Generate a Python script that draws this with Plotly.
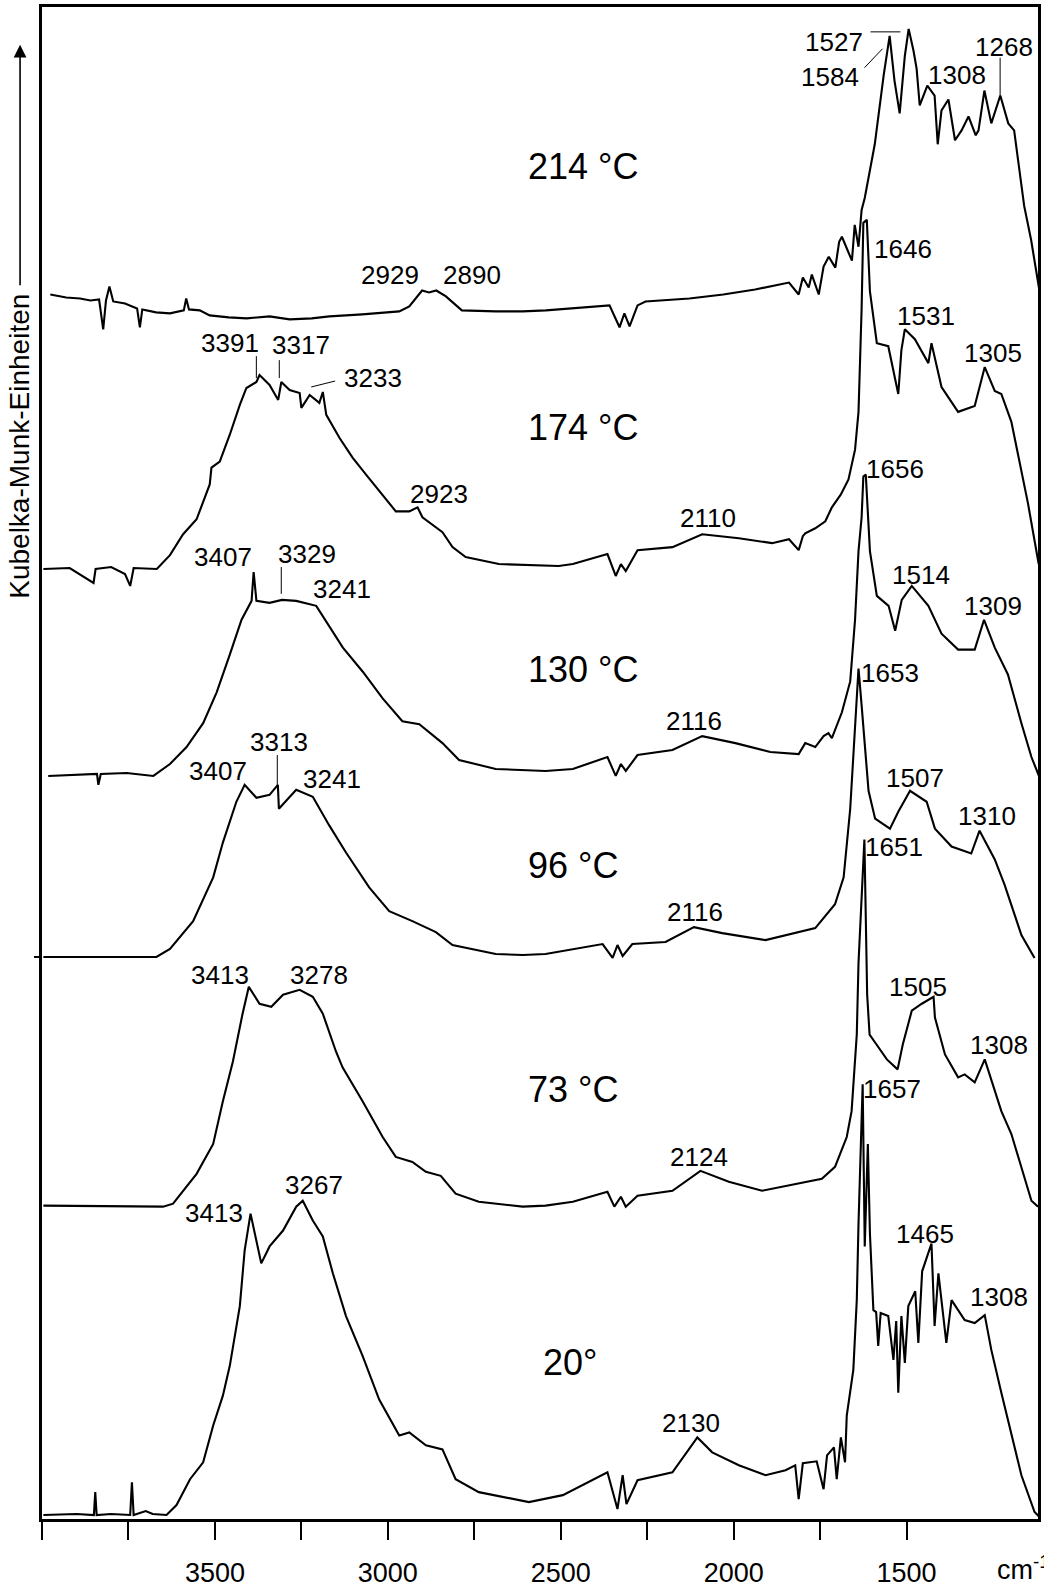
import plotly.graph_objects as go

# ---------------- data ----------------
temps = ["214 °C", "174 °C", "130 °C", "96 °C", "73 °C", "20°"]
offsets = [123.1, 95.5, 74.7, 56.5, 31.5, 0.4]

wn_214 = [3976, 3930, 3890, 3860, 3835, 3823, 3815, 3805, 3794, 3760, 3725, 3717, 3710, 3670, 3630,
          3590, 3583, 3575, 3544, 3515, 3460, 3408, 3342, 3284, 3220, 3169, 3074, 2967, 2938, 2901,
          2881, 2860, 2832, 2786, 2688, 2610, 2543, 2416, 2359, 2330, 2316, 2301, 2278, 2255, 2128,
          2030, 1938, 1840, 1812, 1800, 1783, 1774, 1754, 1740, 1725, 1706, 1695, 1687, 1658, 1650,
          1639, 1630, 1621, 1592, 1566, 1549, 1535, 1520, 1505, 1494, 1480, 1471, 1462, 1440, 1419,
          1410, 1399, 1379, 1360, 1341, 1321, 1300, 1292, 1275, 1255, 1229, 1206, 1189, 1160, 1140,
          1116]
km_214 = [0.0, -0.3, -0.4, -0.6, -0.5, -3.5, -0.6, 0.8, -0.7, -0.9, -1.4, -3.3, -1.5, -1.8, -1.9,
          -1.6, -0.4, -1.5, -1.6, -2.1, -2.3, -2.4, -2.2, -2.5, -2.4, -2.2, -2.0, -1.7, -1.2, 0.4,
          0.2, 0.4, -0.2, -1.6, -1.7, -1.7, -1.6, -1.3, -1.1, -3.3, -1.9, -3.2, -1.1, -0.7, -0.4,
          0.0, 0.5, 1.2, 0.0, 1.7, 0.7, 2.0, 0.0, 2.8, 3.8, 2.7, 5.3, 5.8, 3.4, 7.0,
          4.8, 8.5, 9.7, 15.1, 22.1, 26.0, 21.5, 18.2, 24.0, 26.7, 24.5, 22.7, 19.0, 21.0, 20.0,
          15.1, 18.5, 19.6, 15.5, 16.5, 17.9, 16.0, 16.5, 20.5, 17.2, 20.0, 17.2, 16.5, 8.9, 5.5,
          0.4]

wn_174 = [3996, 3920, 3851, 3845, 3800, 3760, 3745, 3735, 3668, 3630, 3592, 3553, 3515, 3510, 3486,
          3457, 3428, 3409, 3380, 3371, 3342, 3317, 3308, 3284, 3255, 3250, 3226, 3198, 3188, 3178,
          3140, 3102, 3063, 3015, 2977, 2938, 2914, 2900, 2842, 2813, 2775, 2679, 2506, 2465, 2365,
          2341, 2326, 2312, 2278, 2177, 2091, 1985, 1889, 1840, 1812, 1800, 1793, 1764, 1735, 1716,
          1690, 1668, 1649, 1639, 1630, 1625, 1615, 1606, 1586, 1553, 1524, 1515, 1505, 1476, 1437,
          1428, 1399, 1351, 1303, 1274, 1245, 1226, 1197, 1149, 1131, 1118]
km_174 = [0.0, 0.1, -1.4, 0.0, 0.2, -0.5, -1.7, 0.1, 0.0, 1.4, 3.5, 5.0, 8.5, 10.2, 10.8,
          13.5, 16.5, 18.2, 18.8, 19.5, 18.5, 17.0, 18.8, 18.0, 17.7, 16.2, 17.5, 16.7, 17.8, 15.5,
          13.2, 11.2, 9.5, 7.5, 5.8, 5.8, 6.2, 5.2, 3.7, 2.2, 1.2, 0.5, 0.3, 0.5, 1.5,
          -0.7, 0.5, -0.2, 1.9, 2.2, 3.5, 3.1, 2.6, 3.0, 1.9, 3.3, 3.6, 4.1, 4.8, 6.2,
          7.5, 9.0, 12.0, 15.8, 26.2, 34.8, 35.1, 27.9, 22.7, 22.4, 17.6, 22.0, 24.1, 23.1, 20.7,
          22.7, 18.3, 15.8, 16.4, 20.3, 17.9, 17.6, 14.8, 6.6, 3.0, 0.5]

wn_130 = [3982, 3900, 3841, 3837, 3830, 3755, 3678, 3630, 3582, 3534, 3495, 3457, 3423, 3394, 3388,
          3380, 3342, 3306, 3265, 3207, 3169, 3130, 3073, 3015, 2958, 2909, 2842, 2794, 2688, 2544,
          2465, 2365, 2341, 2326, 2312, 2278, 2177, 2091, 1995, 1894, 1812, 1793, 1764, 1740, 1726,
          1716, 1687, 1663, 1649, 1639, 1630, 1625, 1618, 1610, 1606, 1586, 1552, 1533, 1514, 1485,
          1437, 1399, 1351, 1303, 1276, 1245, 1207, 1168, 1139, 1115]
km_130 = [0.0, 0.1, 0.2, -0.9, 0.2, 0.3, 0.0, 1.2, 2.9, 5.3, 8.4, 12.2, 15.7, 17.6, 20.5,
          17.6, 17.4, 17.7, 17.6, 17.1, 15.0, 12.9, 10.5, 7.8, 5.5, 5.2, 3.3, 1.6, 0.7, 0.5,
          0.7, 1.9, 0.0, 1.2, 0.5, 2.1, 2.6, 4.0, 3.3, 2.4, 2.2, 3.3, 2.9, 4.0, 4.3,
          3.8, 6.4, 9.5, 15.7, 22.6, 26.0, 30.1, 30.3, 25.3, 22.6, 18.1, 17.1, 14.6, 17.7, 19.1,
          17.1, 14.3, 12.7, 12.7, 15.7, 12.9, 10.2, 5.3, 1.9, -0.2]

wn_96 = [3996, 3669, 3630, 3563, 3505, 3477, 3438, 3414, 3380, 3342, 3318, 3315, 3265, 3217, 3169,
         3121, 3054, 2996, 2929, 2861, 2813, 2688, 2610, 2544, 2379, 2350, 2336, 2321, 2293, 2197,
         2115, 2033, 1908, 1764, 1707, 1682, 1663, 1649, 1639, 1630, 1610, 1591, 1548, 1524, 1490,
         1442, 1418, 1370, 1313, 1289, 1245, 1217, 1168, 1130]
km_96 = [0.0, 0.0, 0.8, 3.6, 8.0, 11.5, 15.6, 17.3, 16.0, 16.3, 17.3, 14.9, 16.8, 16.1, 13.2,
         10.5, 7.0, 4.6, 3.6, 2.5, 1.2, 0.3, 0.2, 0.3, 1.3, -0.1, 1.2, 0.1, 1.3, 1.5,
         3.0, 2.4, 1.7, 2.9, 5.3, 8.0, 14.9, 23.5, 29.0, 25.3, 16.7, 13.9, 12.9, 14.6, 16.7,
         15.6, 12.9, 11.1, 10.4, 12.7, 9.8, 7.3, 2.2, -0.1]

wn_73 = [3996, 3745, 3650, 3621, 3553, 3505, 3477, 3448, 3420, 3402, 3371, 3337, 3303, 3255, 3217,
         3188, 3150, 3131, 3073, 3015, 2977, 2929, 2890, 2847, 2804, 2737, 2610, 2544, 2465, 2365,
         2345, 2326, 2312, 2278, 2177, 2096, 2014, 1918, 1745, 1707, 1673, 1659, 1644, 1639, 1622,
         1614, 1607, 1591, 1557, 1526, 1511, 1485, 1456, 1422, 1418, 1389, 1351, 1332, 1303, 1274,
         1245, 1226, 1197, 1168, 1139, 1120]
km_73 = [0.0, -0.1, -0.1, 0.2, 3.2, 6.2, 10.5, 14.5, 19.3, 22.0, 20.3, 20.0, 21.2, 21.7, 21.0,
         19.3, 15.5, 13.9, 10.5, 6.9, 4.9, 4.4, 3.4, 3.0, 1.2, 0.4, -0.1, 0.0, 0.4, 1.4,
         -0.1, 0.9, -0.1, 1.0, 1.5, 3.5, 2.4, 1.5, 2.7, 3.9, 6.9, 9.5, 17.2, 24.4, 36.8,
         21.2, 17.2, 16.4, 14.7, 13.7, 16.2, 19.6, 20.3, 21.0, 18.9, 15.2, 12.9, 13.2, 12.4, 14.7,
         11.5, 9.5, 7.2, 3.9, 0.5, -0.1]

wn_20 = [3996, 3900, 3850, 3846, 3842, 3800, 3745, 3740, 3735, 3700, 3680, 3640, 3611, 3572, 3534,
         3505, 3477, 3457, 3428, 3414, 3397, 3380, 3366, 3342, 3303, 3265, 3246, 3217, 3188, 3159,
         3121, 3073, 3025, 2967, 2938, 2890, 2842, 2804, 2737, 2592, 2494, 2365, 2336, 2321, 2310,
         2278, 2177, 2105, 2062, 1985, 1908, 1850, 1822, 1812, 1800, 1760, 1740, 1730, 1710, 1702,
         1690, 1678, 1673, 1654, 1644, 1639, 1632, 1627, 1621, 1612, 1606, 1596, 1588, 1582, 1575,
         1553, 1538, 1530, 1524, 1515, 1505, 1495, 1475, 1466, 1455, 1428, 1419, 1408, 1385, 1370,
         1332, 1303, 1274, 1255, 1226, 1197, 1168, 1130, 1116]
km_20 = [0.0, 0.1, 0.0, 2.3, 0.0, 0.1, 0.0, 3.3, 0.0, 0.4, 0.1, 0.0, 1.0, 3.6, 5.3,
         9.0, 12.0, 15.0, 21.0, 26.6, 30.3, 27.6, 25.3, 27.0, 28.6, 31.0, 31.6, 29.6, 28.0, 24.3,
         20.0, 16.0, 11.6, 8.0, 8.3, 7.0, 6.6, 3.6, 2.3, 1.3, 2.0, 4.3, 0.6, 4.0, 1.1,
         3.5, 4.3, 7.8, 6.3, 5.0, 4.0, 4.5, 5.0, 1.6, 5.2, 5.4, 2.6, 6.0, 6.8, 3.6,
         7.8, 5.3, 10.0, 14.6, 21.6, 29.3, 38.3, 43.3, 27.0, 37.3, 28.3, 20.6, 20.4, 17.0, 20.3,
         20.0, 15.6, 19.5, 12.3, 20.0, 15.3, 21.0, 22.5, 17.3, 24.5, 27.3, 19.0, 24.3, 17.3, 21.6,
         19.6, 19.3, 20.1, 16.6, 12.3, 8.3, 4.0, 0.3, -0.2]

spectra = [(wn_214, km_214), (wn_174, km_174), (wn_130, km_130),
           (wn_96, km_96), (wn_73, km_73), (wn_20, km_20)]

tick_vals = [4000, 3750, 3500, 3250, 3000, 2750, 2500, 2250, 2000, 1750, 1500]
tick_text = ["", "", "3500", "", "3000", "", "2500", "", "2000", "", "1500"]

# ---------------- layout helpers (pixel -> axis units) ----------------
W, H = 1044, 1591
ML, MR, MT, MB = 42, 3, 7, 64
X_LEFT, X_RIGHT = 4000, 1120
Y_MIN, Y_MAX = 0, 152


def X(px):
    return X_LEFT - (px - ML) * (X_LEFT - X_RIGHT) / (W - ML - MR)


def Y(py):
    return Y_MAX - (py - MT) * (Y_MAX - Y_MIN) / (H - MT - MB)


FONT = "Arial, Liberation Sans, Helvetica, sans-serif"

fig = go.Figure()
for (wn, km), off, name in zip(spectra, offsets, temps):
    fig.add_trace(go.Scatter(x=wn, y=[v + off for v in km], mode="lines", name=name,
                             line=dict(color="black", width=2.1), showlegend=False))

annotations = []
# temperature labels
temp_pos = [(527, 167), (527, 430), (527, 673), (527, 870), (527, 1095), (542, 1370)]
for t, (px, py) in zip(temps, temp_pos):
    annotations.append(dict(x=X(px), y=Y(py), text=t, showarrow=False, xanchor="left",
                            yanchor="middle", font=dict(size=36, color="black", family=FONT)))

# peak labels (text, centre x px, centre y px)
peak_labels = [
    ("2929", 391, 276), ("2890", 473, 276), ("1527", 836, 42), ("1584", 832, 77),
    ("1308", 960, 75), ("1268", 1007, 47),
    ("3391", 231, 345), ("3317", 302, 347), ("3233", 374, 380), ("2923", 440, 497),
    ("2110", 710, 521), ("1646", 906, 250), ("1531", 929, 318), ("1305", 996, 355),
    ("3407", 224, 560), ("3329", 308, 557), ("3241", 343, 592), ("2116", 696, 725),
    ("1656", 898, 471), ("1514", 924, 578), ("1309", 996, 609),
    ("3313", 280, 746), ("3407", 219, 775), ("3241", 333, 783), ("1653", 893, 677),
    ("1507", 918, 782), ("1310", 990, 820), ("2116", 697, 917),
    ("1651", 897, 851), ("3413", 221, 980), ("3278", 320, 980), ("1505", 921, 992),
    ("1308", 1002, 1050), ("2124", 701, 1163), ("1657", 895, 1095),
    ("3413", 215, 1219), ("3267", 315, 1191), ("1465", 928, 1240), ("1308", 1002, 1304),
    ("2130", 693, 1430),
]
for t, px, py in peak_labels:
    annotations.append(dict(x=X(px), y=Y(py), text=t, showarrow=False, xanchor="center",
                            yanchor="middle", font=dict(size=26, color="black", family=FONT)))

# y-axis title and arrow
annotations.append(dict(xref="paper", yref="paper", x=(20 - ML) / (W - ML - MR),
                        y=(1527 - 449) / (H - MT - MB), text="Kubelka-Munk-Einheiten",
                        textangle=-90, showarrow=False, xanchor="center", yanchor="middle",
                        font=dict(size=28, color="black", family=FONT)))
annotations.append(dict(xref="paper", yref="paper", x=(20 - ML) / (W - ML - MR),
                        y=(1527 - 45) / (H - MT - MB), text="", showarrow=True,
                        ax=0, ay=242, arrowhead=2, arrowsize=1.6, arrowwidth=1.6,
                        arrowcolor="black", standoff=0))
# unit label
annotations.append(dict(xref="paper", yref="paper", x=(998 - ML) / (W - ML - MR),
                        y=(1527 - 1576) / (H - MT - MB), text="cm<sup>-1</sup>",
                        showarrow=False, xanchor="left", yanchor="middle",
                        font=dict(size=27, color="black", family=FONT)))

# leader lines (pixel positions)
leaders = [((873, 32), (903, 32)), ((867, 68), (885, 49)), ((1003, 58), (1003, 96)),
           ((257, 358), (257, 380)), ((280, 362), (280, 380)), ((312, 389), (336, 383)),
           ((282, 570), (282, 597)), ((278, 759), (278, 789))]
shapes = []
for (x0, y0), (x1, y1) in leaders:
    shapes.append(dict(type="line", xref="x", yref="y", x0=X(x0), y0=Y(y0), x1=X(x1), y1=Y(y1),
                       line=dict(color="black", width=1)))
shapes.append(dict(type="line", xref="paper", yref="y", x0=(34 - ML) / (W - ML - MR), x1=0,
                   y0=Y(962), y1=Y(962), line=dict(color="black", width=2)))

fig.update_layout(
    width=W, height=H,
    margin=dict(l=ML, r=MR, t=MT, b=MB, pad=0),
    paper_bgcolor="white", plot_bgcolor="white",
    font=dict(family=FONT, color="black"),
    annotations=annotations, shapes=shapes,
    xaxis=dict(range=[X_LEFT, X_RIGHT], tickvals=tick_vals, ticktext=tick_text,
               ticks="outside", ticklen=18, tickwidth=2, tickcolor="black",
               showline=True, linewidth=2.5, linecolor="black", mirror=True,
               showgrid=False, zeroline=False, tickfont=dict(size=27, family=FONT, color="black"),
               ticklabelstandoff=10),
    yaxis=dict(range=[Y_MIN, Y_MAX], showticklabels=False, ticks="",
               showline=True, linewidth=2.5, linecolor="black", mirror=True,
               showgrid=False, zeroline=False),
)

fig.write_html("out.html", config={"displayModeBar": False},
               post_script="document.body.style.margin='0px';document.body.style.overflow='hidden';")
